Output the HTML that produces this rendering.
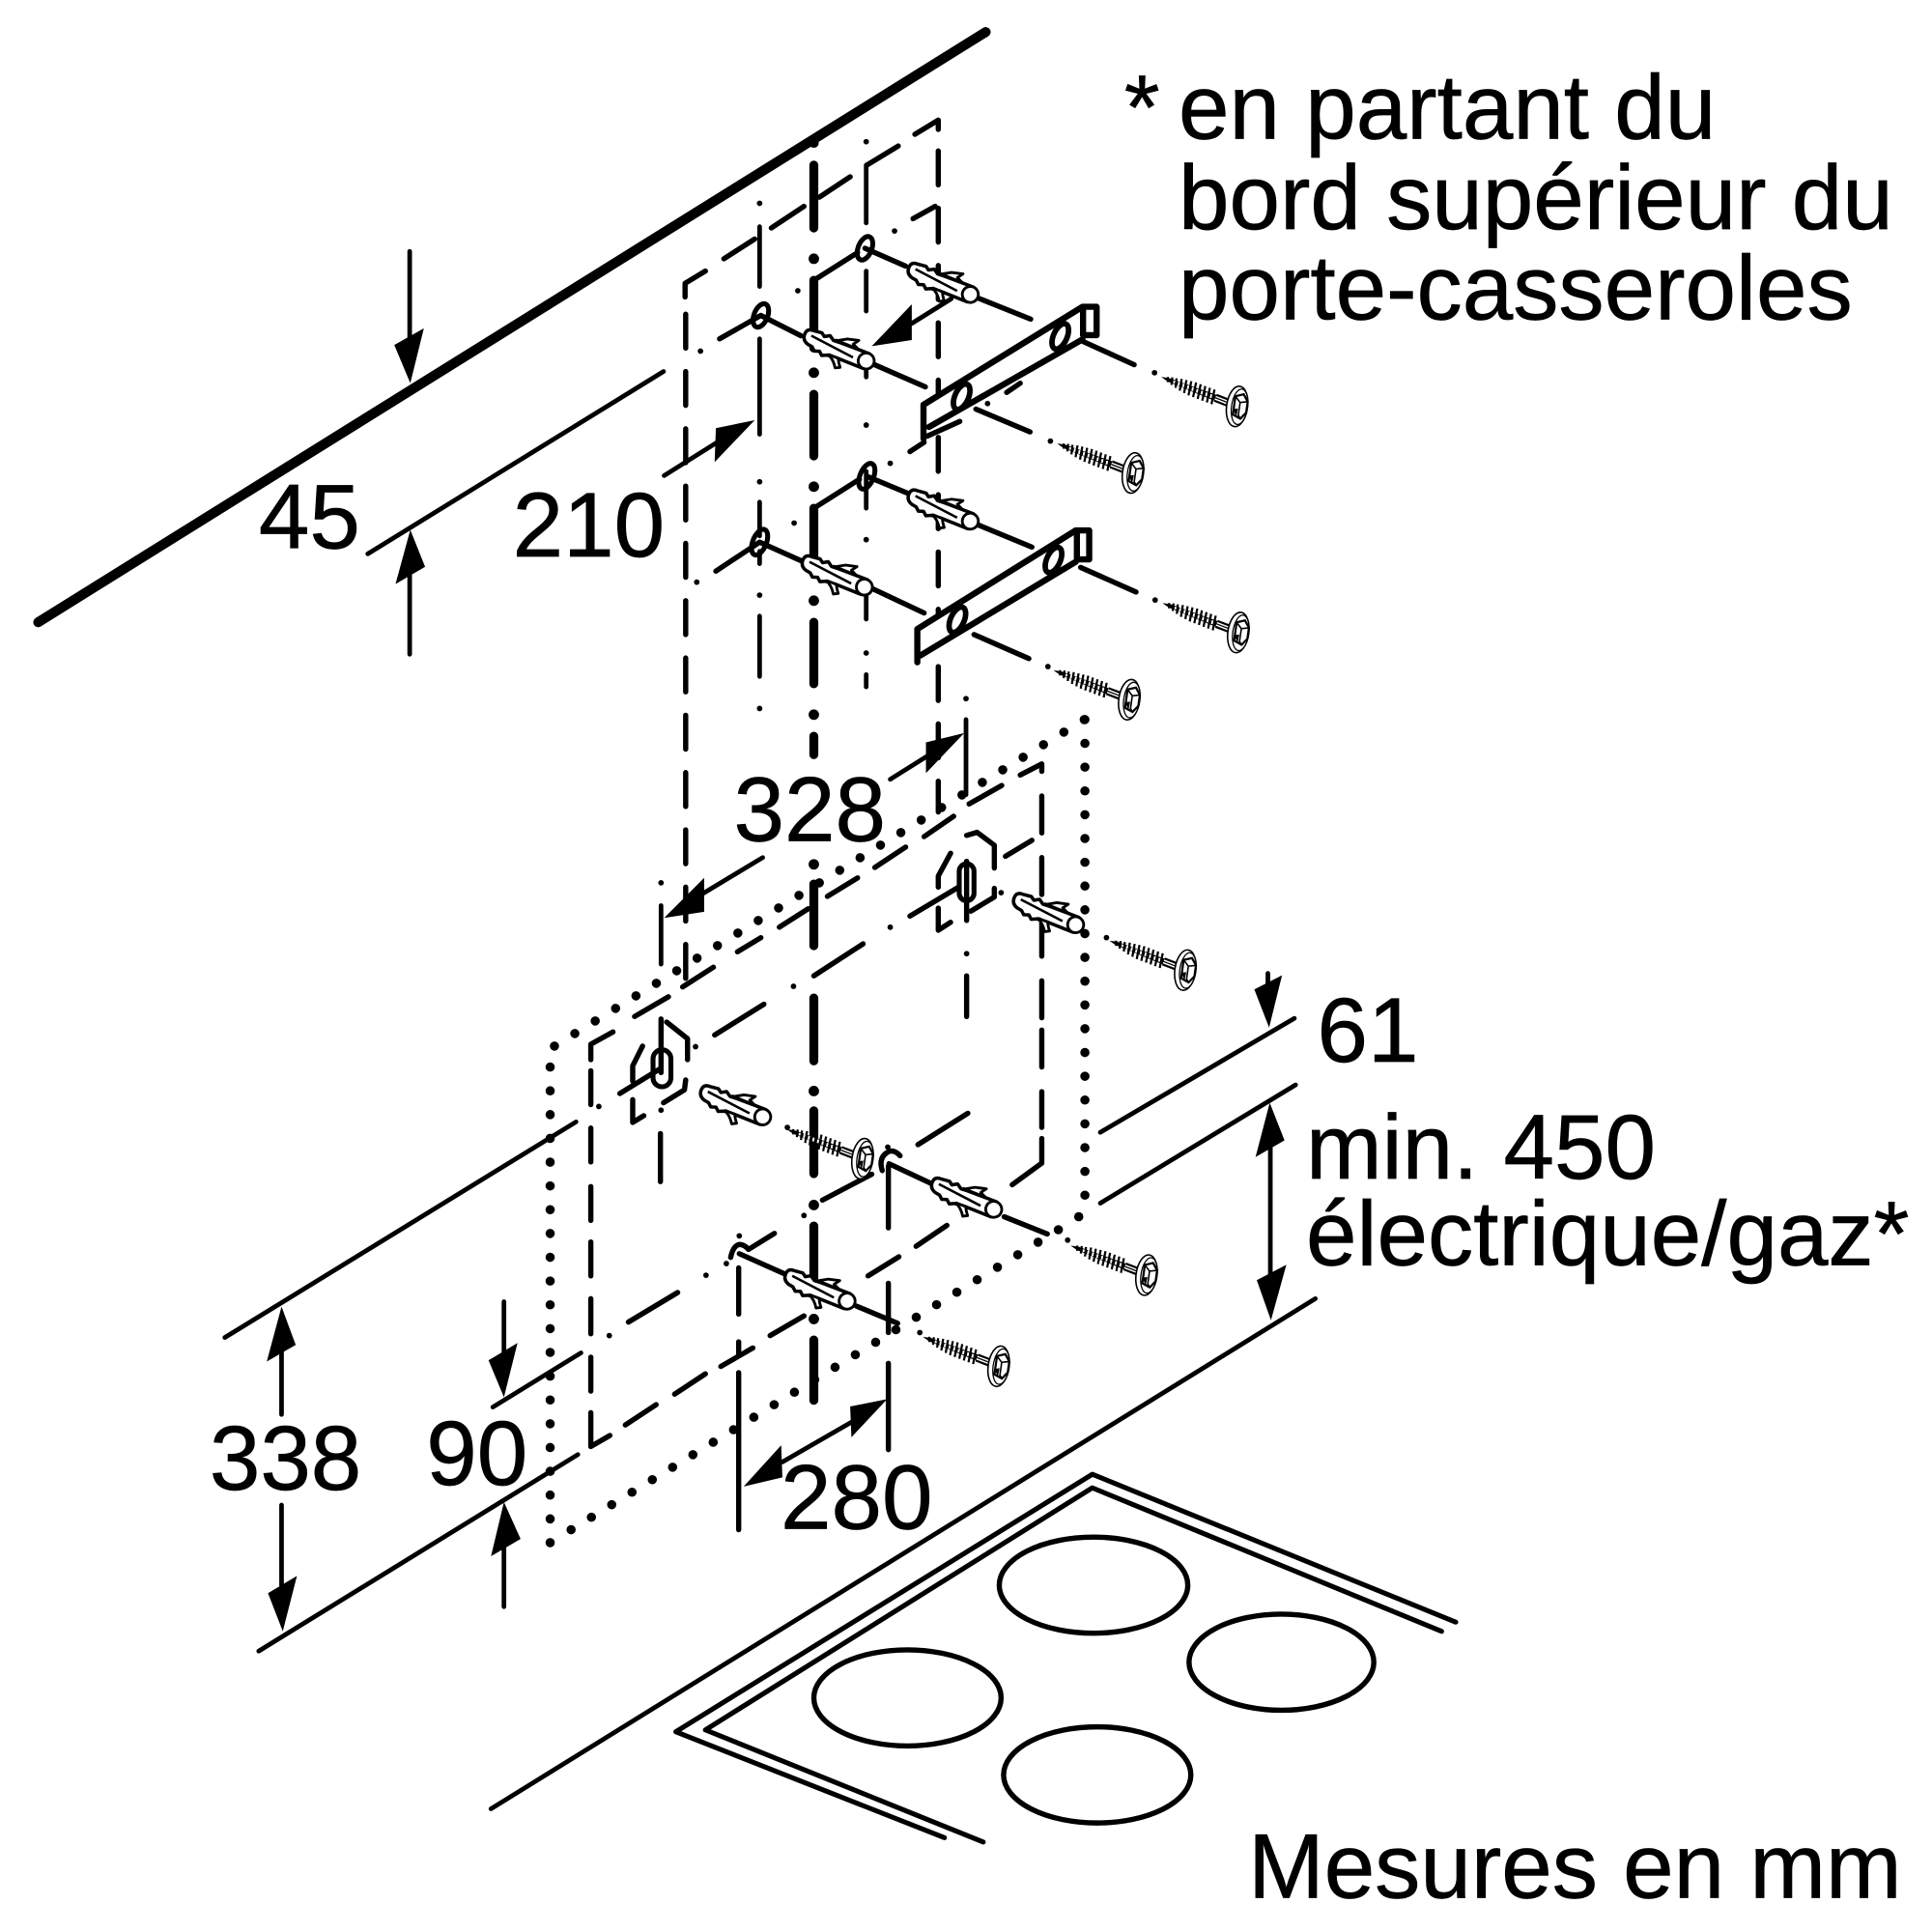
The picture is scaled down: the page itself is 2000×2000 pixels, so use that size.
<!DOCTYPE html>
<html><head><meta charset="utf-8"><style>
html,body{margin:0;padding:0;background:#fff}
svg{display:block}
text{font-family:"Liberation Sans",sans-serif;font-size:148px;fill:#000;stroke:#000;stroke-width:1}
.l{stroke:#000;stroke-width:7.5;fill:none;stroke-linecap:round;stroke-linejoin:round}
.m{stroke:#000;stroke-width:8.5;fill:none;stroke-linecap:round;stroke-linejoin:round}
.t{stroke:#000;stroke-width:14.5;fill:none;stroke-linecap:round}
.d{stroke:#000;stroke-width:15;fill:none;stroke-linecap:round;stroke-dasharray:0 38.6}
</style></head><body>
<svg width="2000" height="2000" viewBox="0 0 3136 3136" xmlns="http://www.w3.org/2000/svg">
<defs>
<g id="dw">
<path d="M-98,-12 Q-109,-12 -109,-2 Q-109,9 -98,12 L-90,13 L-84,18 L-76,15 L-70,20 L-62,16 L-46,14 L0,13 L0,-13 L-50,-11 L-62,-10 L-70,-15 L-78,-10 L-84,-14 Z" fill="#fff" stroke="#000" stroke-width="5.5" stroke-linejoin="round"/>
<path d="M-58,-11 L-42,-21 L-24,-26 L-30,-17 L-18,-12" fill="#fff" stroke="#000" stroke-width="4.5" stroke-linejoin="round"/>
<path d="M-62,14 Q-50,18 -42,30 L-35,26 Q-42,18 -44,12" fill="#fff" stroke="#000" stroke-width="4.5" stroke-linejoin="round"/>
<path d="M-98,-3 L-22,3" stroke="#000" stroke-width="4" fill="none"/>
<path d="M-60,-12 L-2,-13 M-60,14 L-2,13" stroke="#000" stroke-width="4.5" fill="none"/>
<circle r="13" fill="#fff" stroke="#000" stroke-width="4.5"/>
</g>
<g id="sc">
<path d="M-134,0 L-122,-3 L-40,-5 L-40,5 L-122,3 Z" fill="#000"/>
<path d="M-124,-4L-121,4M-117,-6L-114,6M-110,-7L-106,8M-102,-9L-98,10M-94,-10L-90,11M-86,-11L-82,12M-78,-12L-74,12M-70,-12L-66,12M-62,-12L-58,12M-54,-12L-50,12M-46,-12L-42,12" stroke="#000" stroke-width="3.5" fill="none"/>
<path d="M-112,-2L-111,2M-104,-3L-103,3M-96,-3L-95,3M-88,-3L-87,3M-80,-3L-79,3M-72,-3L-71,3M-64,-3L-63,3M-56,-3L-55,3M-48,-3L-47,3" stroke="#fff" stroke-width="3" fill="none"/>
<path d="M-40,-5 L-15,-5 M-40,5 L-15,5" stroke="#000" stroke-width="3.5" fill="none"/>
<path d="M-40,0 L-15,0" stroke="#000" stroke-width="2" fill="none"/>
<g transform="rotate(-13)">
<ellipse cx="-2" cy="0" rx="17" ry="33" fill="#fff" stroke="#000" stroke-width="2.5"/>
<ellipse cx="2" cy="0" rx="13" ry="29" fill="#fff" stroke="#000" stroke-width="2"/>
<path d="M-7,-16 L6,-21 L14,-10 L14,8 L6,19 L-7,14 Z" fill="#fff" stroke="#000" stroke-width="3.5"/>
<path d="M-7,-16 L2,-7 L14,-10 M2,-7 L2,14 L6,19" stroke="#000" stroke-width="2.5" fill="none"/>
<path d="M-8,5 L-1,17 L0,3 Z" fill="#000"/>
</g>
</g>
</defs>
<rect width="3136" height="3136" fill="#fff"/>

<!-- wall top line -->
<path d="M62,1010 L1600,52" stroke="#000" stroke-width="16" stroke-linecap="round" fill="none"/>

<!-- 45 -->
<path class="l" d="M597,899 L1077,603 M665,408 V560 M665,930 V1062"/>
<path d="M666,622 L640,560 L688,533 Z M666,860 L642,948 L690,920 Z"/>

<!-- 210 -->
<path class="l" d="M1078,772 L1180,708"/>
<path d="M1225,682 L1162,695 L1160,750 Z"/>

<!-- upper dashed rectangle -->
<path class="m" stroke-dasharray="55 38" d="M1113,510 V1590"/>
<path class="m" stroke-dasharray="55 38" d="M1523,245 V1318"/>
<path class="m" d="M1112,482 V460 L1145,440 M1175,420 L1225,388 M1252,370 L1305,335 M1330,320 L1380,287 M1407,268 L1458,237 M1485,218 L1523,195 V210"/>
<path class="m" d="M1482,355 L1518,335"/>

<!-- centre lines -->
<path class="l" d="M1233,368 V465 M1233,550 V705 M1233,815 V870 M1233,895 V915 M1233,1000 V1098"/>
<path class="l" d="M1406,268 V362 M1406,440 V505 M1406,580 V612 M1406,765 V825 M1406,950 V1005 M1406,1095 V1115"/>
<path class="t" d="M1321,268 V370 M1321,455 V565 M1321,640 V740 M1321,825 V930 M1321,1010 V1110 M1321,1195 V1225 M1321,1435 V1535 M1321,1620 V1722 M1321,1803 V1905 M1321,1990 V2095 M1321,2175 V2273"/>
<g fill="#000">
<circle cx="1321" cy="232" r="8"/><circle cx="1321" cy="420" r="8.5"/><circle cx="1321" cy="605" r="8.5"/><circle cx="1321" cy="790" r="8.5"/><circle cx="1321" cy="975" r="8.5"/><circle cx="1321" cy="1160" r="8.5"/><circle cx="1321" cy="1403" r="8.5"/><circle cx="1321" cy="1771" r="8.5"/><circle cx="1321" cy="1956" r="8.5"/><circle cx="1321" cy="2141" r="8.5"/>
<circle cx="1233" cy="330" r="4.5"/><circle cx="1233" cy="782" r="4.5"/><circle cx="1233" cy="966" r="4.5"/><circle cx="1233" cy="1150" r="4.5"/>
<circle cx="1406" cy="230" r="4.5"/><circle cx="1406" cy="690" r="4.5"/><circle cx="1406" cy="876" r="4.5"/><circle cx="1406" cy="1060" r="4.5"/>
<circle cx="1137" cy="570" r="4.5"/><circle cx="1295" cy="472" r="4.5"/><circle cx="1452" cy="375" r="4.5"/><circle cx="1445" cy="752" r="4.5"/><circle cx="1289" cy="849" r="4.5"/><circle cx="1131" cy="945" r="4.5"/><circle cx="1532" cy="1009" r="4.5"/><circle cx="1568" cy="1134" r="4.5"/><circle cx="1073" cy="1433" r="4.5"/><circle cx="1603" cy="655" r="4.5"/>
<circle cx="1874" cy="605" r="4.5"/><circle cx="1705" cy="716" r="4.5"/><circle cx="1875" cy="974" r="4.5"/><circle cx="1701" cy="1082" r="4.5"/><circle cx="1796" cy="1522" r="4.5"/><circle cx="1733" cy="2013" r="4.5"/><circle cx="1493" cy="2163" r="4.5"/><circle cx="1625" cy="1449" r="4.5"/><circle cx="1129" cy="1699" r="4.5"/><circle cx="1278" cy="1830" r="4.5"/>
<circle cx="972" cy="1796" r="4.5"/><circle cx="1288" cy="1601" r="4.5"/><circle cx="1445" cy="1505" r="4.5"/><circle cx="1569" cy="1548" r="4.5"/><circle cx="1073" cy="1802" r="4.5"/>
<circle cx="1146" cy="2070" r="4.5"/><circle cx="989" cy="2168" r="4.5"/><circle cx="1305" cy="1973" r="4.5"/><circle cx="1200" cy="2006" r="4.5"/><circle cx="1179" cy="2051" r="4.5"/><circle cx="1441" cy="1862" r="4.5"/>
</g>

<!-- upper connection lines -->
<path class="m" d="M1321,455 L1392,410 M1235,512 L1168,550 M1235,512 L1300,545 M1415,590 L1502,628 M1404,403 L1470,432 M1578,480 L1673,518"/>
<path class="m" d="M1321,825 L1395,778 M1233,880 L1162,927 M1233,880 L1300,910 M1415,955 L1500,995 M1407,773 L1472,800 M1578,848 L1675,888"/>
<path class="m" d="M1753,552 L1841,592 M1584,664 L1672,701 M1634,637 L1656,622 M1754,921 L1844,961 M1581,1030 L1670,1069"/>
<ellipse cx="1404" cy="403" rx="11" ry="20" transform="rotate(22 1404 403)" fill="none" stroke="#000" stroke-width="8"/>
<ellipse cx="1235" cy="512" rx="11" ry="20" transform="rotate(22 1235 512)" fill="none" stroke="#000" stroke-width="8"/>
<ellipse cx="1407" cy="773" rx="11" ry="22" transform="rotate(22 1407 773)" fill="none" stroke="#000" stroke-width="8"/>
<ellipse cx="1233" cy="880" rx="11" ry="22" transform="rotate(22 1233 880)" fill="none" stroke="#000" stroke-width="8"/>

<!-- arrow between dowels -->
<path class="l" d="M1480,525 L1544,485"/>
<path d="M1415,562 L1480,494 L1480,552 Z"/>

<!-- brackets -->
<path d="M1499,657 L1757,498 H1780 V544 H1760 L1508,693 L1499,699 Z" fill="#fff"/>
<path class="m" style="stroke-width:10" d="M1499,712 V657 L1757,498 H1780 V544 H1758 V498 M1757,551 L1508,693"/>
<path class="m" d="M1477,733 L1500,718 M1505,708 L1558,684"/>
<ellipse cx="1561" cy="644" rx="11" ry="22" transform="rotate(24 1561 644)" fill="#fff" stroke="#000" stroke-width="9"/>
<ellipse cx="1721" cy="546" rx="11" ry="22" transform="rotate(24 1721 546)" fill="#fff" stroke="#000" stroke-width="9"/>
<path d="M1489,1021 L1746,861 H1768 V908 H1752 L1494,1064 Z" fill="#fff"/>
<path class="m" style="stroke-width:10" d="M1489,1075 V1021 L1746,861 H1768 V908 H1748 V861 M1746,912 L1494,1064"/>
<ellipse cx="1554" cy="1006" rx="11" ry="22" transform="rotate(24 1554 1006)" fill="#fff" stroke="#000" stroke-width="9"/>
<ellipse cx="1710" cy="909" rx="11" ry="22" transform="rotate(24 1710 909)" fill="#fff" stroke="#000" stroke-width="9"/>

<!-- 328 -->
<path class="l" d="M1445,1265 L1520,1218 M1238,1392 L1120,1463 M1568,1168 V1290 M1073,1470 V1565"/>
<path d="M1565,1190 L1503,1205 L1503,1255 Z M1078,1490 L1143,1425 L1143,1480 Z"/>

<!-- dotted rectangle -->
<path class="d" d="M1761,1168 V1950"/>
<path class="d" d="M893,1732 V2505"/>
<path class="d" style="stroke-dasharray:0 38.85" d="M900,1698 L1760,1168"/>
<path class="d" style="stroke-dasharray:0 38.7" d="M927,2483 L1718,1996"/>
<circle cx="1751" cy="1975" r="7.5"/>

<!-- inner dashed rectangle -->
<path class="m" d="M959,1738 V1793 M959,1831 V1886 M959,1926 V1981 M959,2016 V2071 M959,2108 V2165 M959,2203 V2258 M959,2293 V2348 L990,2330 M959,1720 V1695 L995,1675 M1030,1650 L1085,1618 M1108,1602 L1158,1570 M1197,1545 L1235,1522 M1265,1505 L1312,1475 M1343,1455 L1392,1425 M1420,1408 L1470,1375 M1500,1358 L1548,1325 M1573,1305 L1626,1275 M1656,1258 L1691,1240 V1252 M1691,1292 V1352 M1691,1392 V1452 M1691,1492 V1552 M1691,1592 V1652 M1691,1672 V1732 M1691,1772 V1830 M1691,1848 V1888 L1643,1923 M1015,2313 L1065,2280 M1095,2263 L1145,2230 M1170,2218 L1222,2188 M1250,2168 L1305,2136 M1409,2071 L1459,2040 M1487,2023 L1537,1989"/>
<path class="m" d="M1160,1680 L1240,1630 M1321,1584 L1401,1532 M1632,1390 L1675,1364 M1335,1948 L1415,1906 M1490,1858 L1571,1807 M1020,2146 L1100,2098 M1215,2028 L1257,2002"/>

<!-- hook 1 -->
<path class="m" d="M1073,1654 V1741 M1082,1659 L1116,1686 V1720 M1043,1698 L1027,1730 V1755 M1027,1785 V1822 L1045,1811 M1077,1790 L1111,1769 L1113,1753 M1006,1775 L1071,1735 M1072,1840 V1918"/>
<rect x="1060" y="1704" width="29" height="60" rx="14.5" fill="none" stroke="#000" stroke-width="8"/>
<!-- hook 2 -->
<path class="m" d="M1569,1356 L1586,1351 L1614,1372 V1409 M1543,1385 L1523,1422 V1440 M1523,1474 V1510 L1543,1497 M1576,1479 L1614,1456 V1442 M1569,1398 V1494 M1569,1584 V1650 M1477,1487 L1556,1440"/>
<rect x="1557" y="1402" width="24" height="60" rx="12" fill="none" stroke="#000" stroke-width="8"/>

<!-- lower connection lines -->
<path class="m" d="M1432,1900 Q1425,1878 1443,1869 Q1452,1866 1461,1876"/>
<path class="m" d="M1186,2041 Q1190,2022 1200,2020 Q1208,2020 1215,2028"/>
<path class="m" d="M1200,2035 L1290,2075 M1390,2120 L1457,2148 M1443,1889 L1520,1925 M1630,1975 L1700,2003"/>
<path class="m" d="M1442,1893 V1993 M1442,2083 V2163 M1442,2213 V2353 M1199,2058 V2133 M1199,2178 V2200 M1199,2228 V2483"/>

<!-- 280 -->
<path class="l" d="M1270,2373 L1400,2298"/>
<path d="M1440,2271 L1380,2283 L1382,2333 Z M1207,2413 L1268,2346 L1270,2398 Z"/>

<!-- 338 -->
<path class="l" d="M365,2171 L935,1821 M420,2680 L938,2361 M457,2188 V2296 M457,2443 V2573"/>
<path d="M457,2121 L433,2210 L480,2183 Z M459,2648 L435,2586 L482,2558 Z"/>
<!-- 90 -->
<path class="l" d="M800,2284 L943,2196 M818,2113 V2208 M818,2508 V2608"/>
<path d="M818,2268 L793,2208 L840,2180 Z M818,2438 L797,2526 L845,2498 Z"/>

<!-- 61 / 450 -->
<path class="l" d="M1786,1838 L2101,1653 M1786,1953 L2103,1761 M2058,1580 V1600 M2062,1848 V2088 M2135,2108 L797,2936"/>
<path d="M2060,1668 L2036,1606 L2081,1583 Z M2061,1790 L2038,1878 L2085,1851 Z M2063,2143 L2040,2078 L2088,2053 Z"/>

<!-- dowels -->
<use href="#dw" transform="translate(1575,478) rotate(23)"/>
<use href="#dw" transform="translate(1406,586) rotate(23)"/>
<use href="#dw" transform="translate(1575,846) rotate(23)"/>
<use href="#dw" transform="translate(1403,953) rotate(23)"/>
<use href="#dw" transform="translate(1238,1813) rotate(23)"/>
<use href="#dw" transform="translate(1746,1501) rotate(23)"/>
<use href="#dw" transform="translate(1613,1963) rotate(23)"/>
<use href="#dw" transform="translate(1375,2112) rotate(23)"/>

<!-- screws -->
<use href="#sc" transform="translate(2010,660) rotate(21)"/>
<use href="#sc" transform="translate(1841,768) rotate(21)"/>
<use href="#sc" transform="translate(2012,1027) rotate(21)"/>
<use href="#sc" transform="translate(1835,1136) rotate(21)"/>
<use href="#sc" transform="translate(1926,1575) rotate(21)"/>
<use href="#sc" transform="translate(1402,1881) rotate(21)"/>
<use href="#sc" transform="translate(1863,2070) rotate(21)"/>
<use href="#sc" transform="translate(1623,2218) rotate(21)"/>

<!-- cooktop -->
<path class="l" style="stroke-width:8" d="M1533,2983 L1097,2811 L1773,2393 L2363,2633 M1596,2990 L1145,2808 L1773,2415 L2340,2648"/>
<g fill="none" stroke="#000" stroke-width="8.5">
<ellipse cx="1775" cy="2573" rx="153" ry="78"/>
<ellipse cx="2080" cy="2698" rx="150" ry="78"/>
<ellipse cx="1781" cy="2881" rx="152" ry="78"/>
<ellipse cx="1473" cy="2756" rx="152" ry="78"/>
</g>

<!-- text -->
<text x="420" y="890">45</text>
<text x="832" y="903">210</text>
<text x="1191" y="1365">328</text>
<text x="340" y="2418">338</text>
<text x="692" y="2410">90</text>
<text x="1267" y="2481">280</text>
<text x="2138" y="1723">61</text>
<text x="2120" y="1913">min. 450</text>
<text x="2120" y="2053">électrique/gaz*</text>
<text x="2026" y="3080">Mesures en mm</text>
<text x="1825" y="225">*</text>
<text x="1913" y="225">en partant du</text>
<text x="1913" y="372">bord supérieur du</text>
<text x="1913" y="518">porte-casseroles</text>
</svg>
</body></html>
